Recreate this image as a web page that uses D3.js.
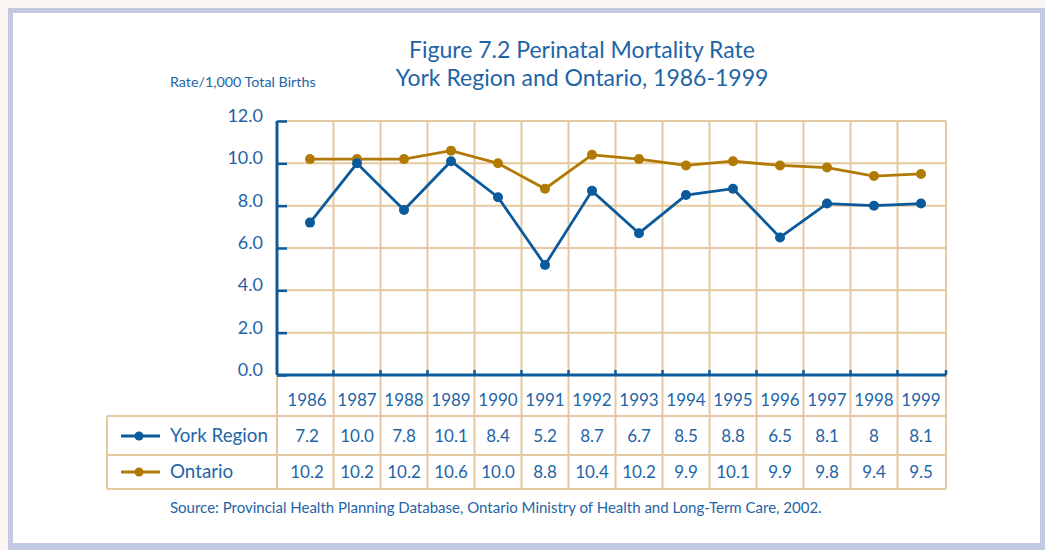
<!DOCTYPE html>
<html>
<head>
<meta charset="utf-8">
<script src="https://cdnjs.cloudflare.com/ajax/libs/d3/7.8.5/d3.min.js"></script>
<style>
  body { margin: 0; background: #fbf6f2; }
  svg { display: block; font-family: "Lato", "Open Sans", sans-serif; }
</style>
</head>
<body>
<div id="chart"></div>
<script>
// chart data
var years = ["1986", "1987", "1988", "1989", "1990", "1991", "1992", "1993", "1994", "1995", "1996", "1997", "1998", "1999"];
var yorkValues = [7.2, 10.0, 7.8, 10.1, 8.4, 5.2, 8.7, 6.7, 8.5, 8.8, 6.5, 8.1, 8, 8.1];
var ontarioValues = [10.2, 10.2, 10.2, 10.6, 10.0, 8.8, 10.4, 10.2, 9.9, 10.1, 9.9, 9.8, 9.4, 9.5];
var yorkLabels = ["7.2", "10.0", "7.8", "10.1", "8.4", "5.2", "8.7", "6.7", "8.5", "8.8", "6.5", "8.1", "8", "8.1"];
var ontarioLabels = ["10.2", "10.2", "10.2", "10.6", "10.0", "8.8", "10.4", "10.2", "9.9", "10.1", "9.9", "9.8", "9.4", "9.5"];
var yTicks = [0, 2, 4, 6, 8, 10, 12];
var seriesNames = ["York Region", "Ontario"];

var W = 1045, H = 550;
var blue = "#0b5a9c", gold = "#b07a05", textBlue = "#1f64a6", grid = "#e6c9a0";

// plot box
var plotLeft = 277, plotRight = 946, plotTop = 121, plotBottom = 375;
var tableTop = 416, rowMid = 455, tableBottom = 489, tableLeft = 107;

var svg = d3.select("#chart").append("svg")
    .attr("width", W)
    .attr("height", H);

// frame
svg.append("rect").attr("x", 8).attr("y", 8).attr("width", W - 8).attr("height", H - 8).attr("fill", "#c3c9e0");
svg.append("rect").attr("x", 13).attr("y", 13).attr("width", 1027).attr("height", 530).attr("fill", "#fff");

// titles
svg.append("text").attr("x", 582).attr("y", 58).attr("text-anchor", "middle")
    .attr("fill", textBlue).style("font-size", "23px").text("Figure 7.2 Perinatal Mortality Rate");
svg.append("text").attr("x", 582).attr("y", 86).attr("text-anchor", "middle")
    .attr("fill", textBlue).style("font-size", "23px").text("York Region and Ontario, 1986-1999");
svg.append("text").attr("x", 170).attr("y", 87)
    .attr("fill", textBlue).style("font-size", "14.3px").text("Rate/1,000 Total Births");

// scales
var x = d3.scalePoint().domain(years).range([310, 921]);
var y = d3.scaleLinear().domain([0, 12]).range([plotBottom, plotTop]);

// column boundaries: axis, midpoints between years, right edge
var bounds = [plotLeft];
for (var i = 1; i < years.length; i++) bounds.push((x(years[i - 1]) + x(years[i])) / 2);
bounds.push(plotRight);

// horizontal grid
svg.append("g").selectAll("line")
    .data(yTicks.filter(function (d) { return d > 0; }))
    .enter().append("line")
    .attr("x1", plotLeft).attr("x2", plotRight)
    .attr("y1", function (d) { return y(d); }).attr("y2", function (d) { return y(d); })
    .attr("stroke", grid).attr("stroke-width", 2);

// vertical grid, runs down through the table
svg.append("g").selectAll("line")
    .data(bounds.slice(1))
    .enter().append("line")
    .attr("x1", function (d) { return d; }).attr("x2", function (d) { return d; })
    .attr("y1", plotTop).attr("y2", tableBottom)
    .attr("stroke", grid).attr("stroke-width", 2);
svg.append("line").attr("x1", plotLeft).attr("x2", plotLeft).attr("y1", plotBottom).attr("y2", tableBottom)
    .attr("stroke", grid).attr("stroke-width", 2);

// table lines
[tableTop, rowMid, tableBottom].forEach(function (ty) {
    svg.append("line").attr("x1", tableLeft).attr("x2", plotRight).attr("y1", ty).attr("y2", ty)
        .attr("stroke", grid).attr("stroke-width", 2);
});
svg.append("line").attr("x1", tableLeft).attr("x2", tableLeft).attr("y1", tableTop).attr("y2", tableBottom)
    .attr("stroke", grid).attr("stroke-width", 2);

// y axis with inner ticks
var yAxis = svg.append("g")
    .attr("transform", "translate(" + plotLeft + ",0)")
    .call(d3.axisRight(y).tickValues(yTicks).tickSize(10).tickFormat(""));
yAxis.select(".domain").remove();
yAxis.selectAll("line").attr("stroke", blue).attr("stroke-width", 2.5);
svg.append("line").attr("x1", plotLeft).attr("x2", plotLeft).attr("y1", plotTop).attr("y2", plotBottom)
    .attr("stroke", blue).attr("stroke-width", 3);

svg.append("g").selectAll("text")
    .data(yTicks)
    .enter().append("text")
    .attr("x", 263).attr("y", function (d) { return y(d) + 1; })
    .attr("text-anchor", "end")
    .attr("fill", textBlue).style("font-size", "18px")
    .text(function (d) { return d3.format(".1f")(d); });

// x axis with small up ticks at column boundaries
svg.append("line").attr("x1", plotLeft).attr("x2", plotRight).attr("y1", plotBottom).attr("y2", plotBottom)
    .attr("stroke", blue).attr("stroke-width", 3);
svg.append("g").selectAll("line")
    .data(bounds.slice(1))
    .enter().append("line")
    .attr("x1", function (d) { return d; }).attr("x2", function (d) { return d; })
    .attr("y1", plotBottom).attr("y2", plotBottom - 5)
    .attr("stroke", blue).attr("stroke-width", 2.5);

// year labels
svg.append("g").selectAll("text")
    .data(years)
    .enter().append("text")
    .attr("x", function (d) { return x(d) - (d === "1986" ? 3 : 0); })
    .attr("y", 406)
    .attr("text-anchor", "middle")
    .attr("fill", textBlue).style("font-size", "17px")
    .text(function (d) { return d; });

// lines and markers
var line = d3.line()
    .x(function (d, i) { return x(years[i]); })
    .y(function (d) { return y(d); });

var series = [
    { name: seriesNames[0], values: yorkValues, labels: yorkLabels, color: blue, rowY: 442 },
    { name: seriesNames[1], values: ontarioValues, labels: ontarioLabels, color: gold, rowY: 478 }
];

series.slice().reverse().forEach(function (s) {
    svg.append("path")
        .datum(s.values)
        .attr("d", line)
        .attr("fill", "none")
        .attr("stroke", s.color)
        .attr("stroke-width", 2.8);
    svg.append("g").selectAll("circle")
        .data(s.values)
        .enter().append("circle")
        .attr("cx", function (d, i) { return x(years[i]); })
        .attr("cy", function (d) { return y(d); })
        .attr("r", 5)
        .attr("fill", s.color);
});

// table rows: legend key + values
series.forEach(function (s) {
    var g = svg.append("g");
    g.append("line").attr("x1", 121).attr("x2", 160).attr("y1", s.rowY - 6).attr("y2", s.rowY - 6)
        .attr("stroke", s.color).attr("stroke-width", 2.8);
    g.append("circle").attr("cx", 139).attr("cy", s.rowY - 6).attr("r", 4.5).attr("fill", s.color);
    g.append("text").attr("x", 170).attr("y", s.rowY)
        .attr("fill", textBlue).style("font-size", "18.8px").text(s.name);
    g.selectAll(".val")
        .data(s.labels)
        .enter().append("text")
        .attr("class", "val")
        .attr("x", function (d, i) { return x(years[i]) - (i === 0 ? 3 : 0); })
        .attr("y", s.rowY)
        .attr("text-anchor", "middle")
        .attr("fill", textBlue).style("font-size", "17px")
        .text(function (d) { return d; });
});

// source note
svg.append("text").attr("x", 170).attr("y", 513)
    .attr("fill", textBlue).style("font-size", "15px")
    .text("Source: Provincial Health Planning Database, Ontario Ministry of Health and Long-Term Care, 2002.");
</script>
</body>
</html>
